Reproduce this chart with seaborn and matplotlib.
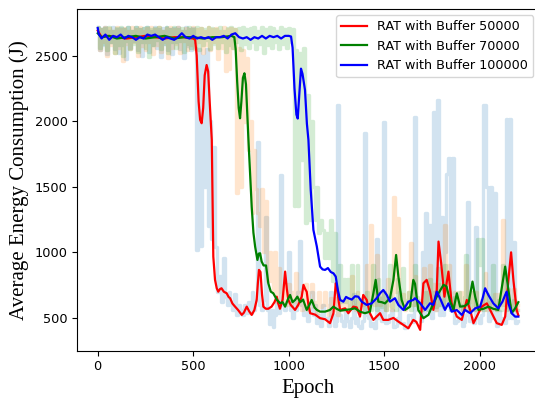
import numpy as np
import pandas as pd
import matplotlib
matplotlib.use("Agg")
import matplotlib.pyplot as plt
import seaborn as sns

# ---------------- data ----------------
raw_epochs = list(range(0, 2201, 10))

raw_50k = [
    2720, 2540, 2700, 2580, 2720, 2510, 2690, 2600, 2720, 2550,
    2700, 2520, 2710, 2580, 2700, 2470, 2720, 2560, 2690, 2610,
    2720, 2540, 2700, 2500, 2710, 2600, 2720, 2530, 2690, 2580,
    2720, 2560, 2700, 2490, 2710, 2590, 2720, 2540, 2700, 2510,
    2710, 2600, 2720, 2550, 2690, 2480, 2720, 2570, 2700, 2540,
    2710, 2560, 1020, 2550, 1050, 2500, 1500, 2550, 1200, 2000,
    1100, 1800, 1040, 700, 820, 620, 960, 660, 600, 700,
    620, 560, 680, 520, 600, 560, 520, 600, 540, 620,
    540, 700, 560, 640, 1840, 600, 560, 640, 1270, 560,
    450, 560, 430, 520, 640, 540, 1590, 600, 560, 620,
    1000, 560, 500, 640, 560, 700, 1090, 600, 520, 560,
    480, 560, 700, 520, 600, 460, 520, 440, 600, 500,
    500, 440, 700, 520, 440, 480, 2120, 520, 480, 440,
    560, 480, 430, 500, 680, 460, 500, 440, 420, 480,
    1910, 520, 500, 440, 460, 420, 1100, 500, 650, 480,
    1990, 460, 470, 520, 560, 430, 440, 500, 700, 460,
    460, 420, 430, 520, 520, 470, 2030, 560, 620, 480,
    1000, 520, 1300, 560, 1210, 500, 2070, 560, 2160, 520,
    1270, 520, 1000, 1600, 1720, 560, 1720, 460, 480, 520,
    600, 440, 470, 520, 1380, 480, 500, 460, 1190, 500,
    460, 520, 2120, 2120, 1500, 480, 1500, 500, 1450, 440,
    550, 480, 500, 460, 2020, 500, 2020, 500, 1080, 460,
    480]

raw_70k = [
    2710, 2540, 2700, 2600, 2720, 2500, 2710, 2580, 2690, 2520,
    2720, 2560, 2700, 2460, 2710, 2590, 2690, 2550, 2720, 2600,
    2700, 2500, 2720, 2570, 2690, 2540, 2710, 2600, 2720, 2510,
    2700, 2580, 2720, 2530, 2690, 2600, 2710, 2480, 2720, 2560,
    2700, 2590, 2720, 2520, 2690, 2610, 2710, 2540, 2700, 2580,
    2720, 2550, 2700, 2600, 2710, 2520, 2690, 2580, 2720, 2540,
    2700, 2600, 2710, 2470, 2690, 2560, 2720, 2380, 2700, 2400,
    2710, 2560, 2700, 1450, 2560, 1500, 2540, 1990, 2480, 1780,
    2000, 1300, 1780, 1480, 1300, 1200, 1480, 1000, 1390, 780,
    1000, 780, 700, 1000, 620, 880, 700, 620, 760, 600,
    760, 600, 700, 620, 840, 600, 700, 560, 600, 760,
    560, 700, 760, 580, 620, 540, 700, 580, 600, 700,
    600, 520, 650, 580, 560, 650, 520, 600, 640, 560,
    640, 560, 600, 820, 600, 560, 700, 560, 640, 600,
    640, 900, 600, 1210, 700, 600, 980, 640, 600, 700,
    640, 560, 800, 600, 560, 1420, 700, 1260, 600, 680,
    680, 560, 620, 700, 1070, 600, 820, 600, 560, 640,
    560, 880, 600, 700, 900, 600, 760, 560, 600, 760,
    760, 600, 1210, 640, 900, 620, 560, 700, 560, 620,
    700, 560, 640, 900, 560, 620, 700, 560, 700, 600,
    560, 640, 600, 840, 560, 620, 560, 620, 680, 560,
    680, 600, 1250, 600, 580, 720, 560, 600, 720, 560,
    600]

raw_100k = [
    2720, 2560, 2700, 2590, 2710, 2540, 2720, 2600, 2690, 2520,
    2710, 2580, 2720, 2500, 2700, 2610, 2720, 2550, 2690, 2590,
    2720, 2530, 2700, 2600, 2710, 2560, 2720, 2490, 2700, 2580,
    2710, 2620, 2720, 2550, 2690, 2590, 2720, 2520, 2700, 2600,
    2720, 2560, 2700, 2610, 2710, 2530, 2690, 2590, 2720, 2560,
    2700, 2600, 2720, 2540, 2710, 2580, 2700, 2620, 2720, 2550,
    2710, 2590, 2700, 2560, 2720, 2600, 2690, 2530, 2710, 2580,
    2720, 2560, 2700, 2600, 2710, 2540, 2720, 2590, 2700, 2560,
    2710, 2600, 2720, 2550, 2690, 2590, 2720, 2520, 2700, 2580,
    2720, 2560, 2710, 2600, 2690, 2550, 2720, 2590, 2700, 2560,
    2710, 2600, 2700, 1350, 2540, 1350, 2520, 1700, 2560, 1224,
    2200, 1250, 2000, 1500, 1250, 1500, 1150, 1250, 1170, 960,
    1150, 960, 1250, 780, 1150, 900, 700, 900, 620, 800,
    620, 800, 580, 900, 640, 600, 900, 560, 640, 600,
    560, 700, 640, 560, 900, 620, 560, 800, 660, 580,
    700, 560, 640, 900, 580, 620, 560, 800, 700, 600,
    880, 640, 580, 700, 560, 600, 900, 660, 580, 600,
    560, 620, 700, 560, 800, 620, 700, 580, 880, 600,
    640, 580, 900, 620, 700, 560, 600, 660, 580, 700,
    600, 560, 660, 980, 600, 560, 700, 600, 560, 1100,
    900, 1100, 560, 620, 680, 580, 620, 900, 600, 560,
    640, 560, 900, 600, 560, 640, 600, 560, 640, 560,
    560]

red_epochs = [0, 20, 50, 100, 150, 200, 250, 300, 350, 400, 450, 500, 510, 518, 528, 536, 544, 552, 560, 570,
              578, 586, 597, 605, 614, 623, 631, 640, 648, 660, 675, 685, 693, 705, 719, 735, 754, 765, 780, 793,
              806, 820, 832, 838, 844, 852, 860, 867, 880, 893, 910, 925, 937, 945, 954, 968, 981, 990, 998, 1010,
              1033, 1050, 1068, 1077, 1086, 1094, 1103, 1112, 1138, 1164, 1190, 1216, 1234, 1240, 1246, 1252, 1262, 1269, 1295, 1312,
              1338, 1356, 1373, 1382, 1390, 1408, 1425, 1443, 1460, 1478, 1495, 1521, 1548, 1574, 1600, 1626, 1652, 1668, 1688, 1697,
              1705, 1722, 1740, 1757, 1775, 1784, 1798, 1815, 1836, 1853, 1880, 1906, 1932, 1950, 1967, 1993, 2010, 2037, 2063, 2089,
              2115, 2133, 2150, 2164, 2176, 2193, 2202]
red_values = [2690, 2640, 2650, 2640, 2630, 2640, 2650, 2640, 2630, 2640, 2640, 2630, 2620, 2500, 2150, 2010, 1984, 2100, 2350, 2428,
              2380, 2150, 1857, 967, 790, 726, 700, 720, 726, 700, 688, 660, 650, 610, 586, 560, 523, 540, 586, 550,
              523, 560, 637, 760, 866, 850, 680, 586, 570, 570, 586, 620, 662, 610, 570, 640, 853, 720, 637, 600,
              561, 600, 662, 752, 720, 700, 600, 536, 525, 498, 490, 460, 536, 650, 764, 740, 620, 561, 573, 536,
              586, 580, 510, 600, 675, 637, 536, 485, 510, 536, 485, 485, 500, 472, 447, 421, 485, 470, 409, 600,
              764, 790, 700, 561, 713, 1082, 917, 662, 853, 611, 510, 485, 637, 560, 460, 536, 586, 611, 536, 460,
              447, 510, 790, 1000, 790, 561, 520]

green_epochs = [0, 20, 60, 100, 150, 200, 250, 300, 350, 400, 450, 500, 550, 600, 650, 700, 715, 722, 730, 738,
                745, 752, 760, 768, 776, 789, 806, 815, 824, 836, 843, 850, 858, 868, 881, 893, 906, 919, 937, 955,
                968, 981, 995, 1007, 1020, 1033, 1045, 1060, 1075, 1094, 1108, 1120, 1135, 1147, 1164, 1190, 1215, 1234, 1250, 1270,
                1295, 1320, 1347, 1373, 1399, 1425, 1443, 1455, 1469, 1487, 1504, 1530, 1548, 1562, 1574, 1591, 1609, 1635, 1652, 1661,
                1678, 1705, 1731, 1757, 1784, 1810, 1826, 1845, 1862, 1880, 1897, 1920, 1941, 1962, 1976, 1993, 2020, 2045, 2070, 2097,
                2119, 2133, 2150, 2167, 2185, 2202]
green_values = [2670, 2640, 2650, 2630, 2640, 2650, 2630, 2640, 2650, 2630, 2640, 2640, 2630, 2640, 2640, 2650, 2640, 2550, 2300, 2100,
                2022, 2150, 2330, 2365, 2280, 1857, 1348, 1150, 1043, 942, 990, 993, 930, 900, 900, 764, 700, 688, 640, 612,
                620, 586, 640, 675, 620, 637, 662, 620, 640, 561, 600, 637, 580, 561, 548, 548, 560, 586, 570, 555,
                561, 565, 573, 548, 536, 548, 688, 790, 624, 620, 611, 650, 790, 980, 815, 637, 561, 586, 790, 760,
                561, 498, 523, 611, 688, 752, 740, 624, 561, 688, 586, 590, 611, 777, 662, 561, 570, 586, 570, 561,
                764, 891, 713, 536, 573, 620]

blue_epochs = [0, 5, 20, 40, 60, 80, 100, 120, 140, 160, 180, 200, 220, 240, 260, 280, 300, 320, 340, 360,
               380, 400, 420, 440, 460, 480, 500, 520, 540, 560, 580, 600, 620, 640, 660, 680, 700, 720, 740, 760,
               780, 800, 820, 840, 860, 880, 900, 920, 940, 960, 980, 1000, 1012, 1020, 1030, 1040, 1047, 1055, 1064, 1072,
               1085, 1095, 1103, 1115, 1129, 1147, 1164, 1177, 1190, 1205, 1220, 1234, 1246, 1257, 1269, 1286, 1300, 1312, 1330, 1347,
               1364, 1382, 1408, 1434, 1460, 1478, 1495, 1513, 1530, 1556, 1574, 1600, 1626, 1652, 1661, 1688, 1714, 1740, 1757, 1775,
               1792, 1818, 1836, 1853, 1880, 1906, 1923, 1950, 1976, 2002, 2015, 2028, 2045, 2071, 2097, 2119, 2133, 2141, 2150, 2167,
               2185, 2202]
blue_values = [2710, 2665, 2630, 2660, 2620, 2650, 2640, 2660, 2630, 2650, 2640, 2620, 2640, 2630, 2660, 2650, 2660, 2640, 2620, 2640,
               2630, 2620, 2640, 2670, 2640, 2630, 2650, 2630, 2640, 2630, 2640, 2620, 2640, 2640, 2650, 2630, 2660, 2670, 2640, 2630,
               2640, 2620, 2640, 2630, 2650, 2630, 2650, 2640, 2650, 2630, 2650, 2650, 2645, 2560, 2250, 2050, 2020, 2200, 2400, 2360,
               2238, 1980, 1857, 1476, 1171, 1044, 891, 870, 866, 880, 850, 840, 815, 713, 637, 624, 660, 650, 640, 665,
               662, 624, 599, 611, 650, 688, 713, 675, 624, 650, 599, 561, 624, 637, 650, 612, 561, 612, 600, 700,
               650, 561, 611, 548, 560, 523, 561, 536, 573, 586, 650, 726, 675, 611, 573, 624, 675, 700, 611, 536,
               510, 510]

labels = ["RAT with Buffer 50000", "RAT with Buffer 70000", "RAT with Buffer 100000"]

assert len(raw_50k) == len(raw_epochs), len(raw_50k)
assert len(raw_70k) == len(raw_epochs), len(raw_70k)
assert len(raw_100k) == len(raw_epochs), len(raw_100k)
assert len(red_epochs) == len(red_values)
assert len(green_epochs) == len(green_values)
assert len(blue_epochs) == len(blue_values)

# ---------------- figure ----------------
plt.rcParams['font.family'] = ['DejaVu Sans']
fig = plt.figure(figsize=(5.35, 3.99), dpi=100)
ax = fig.add_axes([0.1445, 0.121, 0.864, 0.8565])

raw_df = pd.DataFrame({"epoch": raw_epochs, "r50": raw_50k, "r70": raw_70k, "r100": raw_100k})
for col, c in [("r50", "tab:blue"), ("r70", "tab:orange"), ("r100", "tab:green")]:
    sns.lineplot(data=raw_df, x="epoch", y=col, ax=ax, color=c, alpha=0.2, lw=2.4,
                 drawstyle="steps-mid", estimator=None, sort=False, legend=False)

handles = []
for xs, ys, c, lab in [(red_epochs, red_values, "red", labels[0]),
                       (green_epochs, green_values, "green", labels[1]),
                       (blue_epochs, blue_values, "blue", labels[2])]:
    d = pd.DataFrame({"epoch": xs, "val": ys})
    sns.lineplot(data=d, x="epoch", y="val", ax=ax, color=c, lw=1.6,
                 estimator=None, sort=False, legend=False)
    handles.append(ax.lines[-1])

ax.set_xlim(-107, 2313)
ax.set_ylim(250, 2855)
ax.set_xticks([0, 500, 1000, 1500, 2000])
ax.set_yticks([500, 1000, 1500, 2000, 2500])
ax.tick_params(labelsize=9.3)
ax.set_xlabel("Epoch", family="Liberation Serif", fontsize=15)
ax.set_ylabel("Average Energy Consumption (J)", family="Liberation Serif", fontsize=15)

leg = ax.legend(handles, labels, loc="upper right", fontsize=9.2)

fig.savefig("out.png", dpi=100)
